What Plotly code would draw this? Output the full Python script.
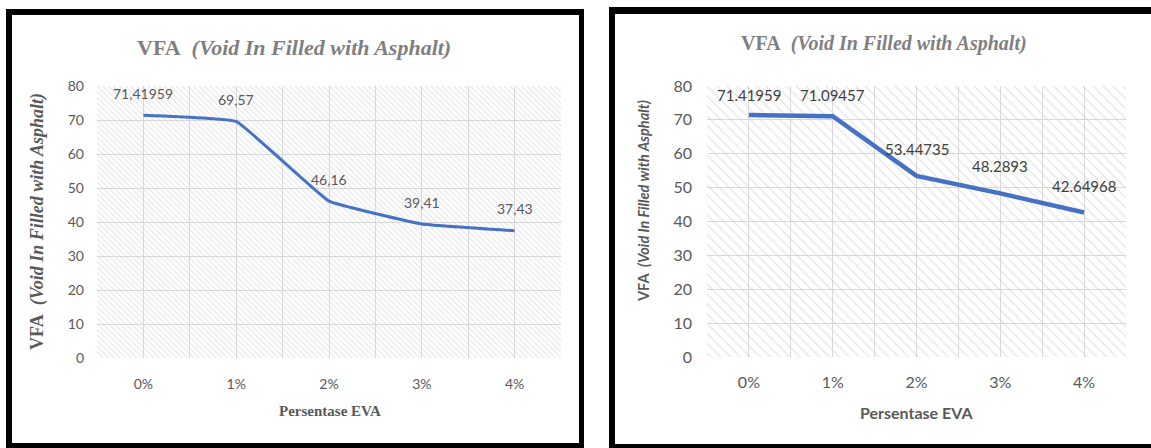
import plotly.graph_objects as go

# ---- data -------------------------------------------------------------
categories = ["0%", "1%", "2%", "3%", "4%"]
vfa_left = [71.41959, 69.57, 46.16, 39.41, 37.43]
vfa_right = [71.41959, 71.09457, 53.44735, 48.2893, 42.64968]
y_ticks = [0, 10, 20, 30, 40, 50, 60, 70, 80]

# ---- page geometry (pixels) ------------------------------------------
W, H = 1151, 448


def px(x):
    return x / W


def py(y):
    return 1 - y / H


LINE_BLUE = "#4472C4"
GRID = "#d9d9d9"
TXT = "#595959"

y_max = y_ticks[-1]
xpos = list(range(len(categories)))
bounds = [i - 0.5 for i in range(len(categories) + 1)]

fig = go.Figure()

# hatched plot-area backgrounds
fig.add_trace(go.Bar(
    x=xpos, y=[y_max] * len(xpos), width=1, xaxis="x", yaxis="y",
    marker=dict(color="rgba(0,0,0,0)", line=dict(width=0),
                pattern=dict(shape="\\", fgcolor="#cfcfcf", bgcolor="rgba(0,0,0,0)",
                             size=4, solidity=0.3, fillmode="overlay")),
    hoverinfo="skip", showlegend=False))
fig.add_trace(go.Bar(
    x=xpos, y=[y_max] * len(xpos), width=1, xaxis="x2", yaxis="y2",
    marker=dict(color="rgba(0,0,0,0)", line=dict(width=0),
                pattern=dict(shape="\\", fgcolor="#cdcdcd", bgcolor="rgba(0,0,0,0)",
                             size=7, solidity=0.2, fillmode="overlay")),
    hoverinfo="skip", showlegend=False))

# data lines
fig.add_trace(go.Scatter(x=xpos, y=vfa_left, mode="lines", xaxis="x", yaxis="y",
                         line=dict(color=LINE_BLUE, width=3, shape="spline", smoothing=0.25),
                         showlegend=False))
fig.add_trace(go.Scatter(x=xpos, y=vfa_right, mode="lines", xaxis="x2", yaxis="y2",
                         line=dict(color=LINE_BLUE, width=4.5), showlegend=False))

# plot-area pixel boxes
L_X0, L_X1, L_Y0, L_Y1 = 97, 561, 86, 358
R_X0, R_X1, R_Y0, R_Y1 = 707, 1126, 86, 357

common_x = dict(range=[bounds[0], bounds[-1]], tickmode="array", tickvals=xpos,
                ticktext=categories, showgrid=True, gridcolor=GRID, gridwidth=1,
                zeroline=False, showline=False, ticks="", automargin=False,
                fixedrange=True,
                minor=dict(tickmode="array", tickvals=bounds, showgrid=True,
                           gridcolor=GRID, gridwidth=1, ticks=""))
common_y = dict(range=[0, y_max], tickmode="array", tickvals=y_ticks,
                showgrid=True, gridcolor=GRID, gridwidth=1, zeroline=False,
                showline=False, ticks="", automargin=False, fixedrange=True)

fig.update_layout(
    width=W, height=H, margin=dict(l=0, r=0, t=0, b=0),
    paper_bgcolor="white", plot_bgcolor="white", barmode="overlay",
    xaxis=dict(common_x, domain=[px(L_X0), px(L_X1)], anchor="y",
               tickfont=dict(family="Lato", size=14, color=TXT), ticklabelstandoff=16),
    yaxis=dict(common_y, domain=[py(L_Y1), py(L_Y0)], anchor="x",
               tickfont=dict(family="Lato", size=14, color=TXT), ticklabelstandoff=12),
    xaxis2=dict(common_x, domain=[px(R_X0), px(R_X1)], anchor="y2",
                tickfont=dict(family="Lato", size=16, color=TXT), ticklabelstandoff=14),
    yaxis2=dict(common_y, domain=[py(R_Y1), py(R_Y0)], anchor="x2",
                tickfont=dict(family="Lato", size=16, color=TXT), ticklabelstandoff=14),
)

annotations = []

# value labels (kept inside the plot area near the top)
l_unit = (L_Y1 - L_Y0) / y_max
for xi, v in zip(xpos, vfa_left):
    shift = min(22, (y_max - v) * l_unit - 6)
    annotations.append(dict(x=xi, y=v, xref="x", yref="y", text=str(v).replace(".", ","),
                            showarrow=False, yshift=shift, yanchor="middle",
                            font=dict(family="Lato", size=14, color=TXT)))
r_unit = (R_Y1 - R_Y0) / y_max
for xi, v in zip(xpos, vfa_right):
    shift = min(27, (y_max - v) * r_unit - 9)
    annotations.append(dict(x=xi, y=v, xref="x2", yref="y2", text=str(v),
                            showarrow=False, yshift=shift, yanchor="middle",
                            font=dict(family="Lato", size=15, color="#404040")))

title_txt = "<b>VFA\u00a0\u00a0<i>(Void In Filled with Asphalt)</i></b>"

# left panel texts
annotations += [
    dict(x=px(294), y=py(47), xref="paper", yref="paper", text=title_txt,
         showarrow=False, xanchor="center", yanchor="middle",
         font=dict(family="Liberation Serif", size=22, color="#7f7f7f")),
    dict(x=px(37), y=py(222), xref="paper", yref="paper", text=title_txt,
         showarrow=False, textangle=-90, xanchor="center", yanchor="middle",
         font=dict(family="Liberation Serif", size=18, color=TXT)),
    dict(x=px(330), y=py(411), xref="paper", yref="paper",
         text="<b>Persentase EVA</b>", showarrow=False, xanchor="center",
         yanchor="middle", font=dict(family="Liberation Serif", size=15, color=TXT)),
]

# right panel texts
annotations += [
    dict(x=px(884), y=py(43), xref="paper", yref="paper", text=title_txt,
         showarrow=False, xanchor="center", yanchor="middle",
         font=dict(family="Liberation Serif", size=20, color="#7f7f7f")),
    dict(x=px(643), y=py(201), xref="paper", yref="paper", text=title_txt,
         showarrow=False, textangle=-90, xanchor="center", yanchor="middle",
         font=dict(family="Lato", size=14.5, color=TXT)),
    dict(x=px(916), y=py(412), xref="paper", yref="paper",
         text="<b>Persentase EVA</b>", showarrow=False, xanchor="center",
         yanchor="middle", font=dict(family="Lato", size=16, color=TXT)),
]
fig.update_layout(annotations=annotations)


def block(x0, y0, x1, y1, color="black"):
    return dict(type="rect", xref="paper", yref="paper", x0=px(x0), x1=px(x1),
                y0=py(y1), y1=py(y0), fillcolor=color, line=dict(width=0), layer="above")


shapes = [
    # left frame
    block(6, 9, 584, 15), block(6, 9, 12, 448), block(579, 9, 584, 448),
    block(6, 443, 584, 448),
    # right frame
    block(609, 7, 1151, 14), block(609, 7, 615, 448), block(609, 444, 1151, 448),
]
fig.update_layout(shapes=shapes)

fig.write_html("out.html")
